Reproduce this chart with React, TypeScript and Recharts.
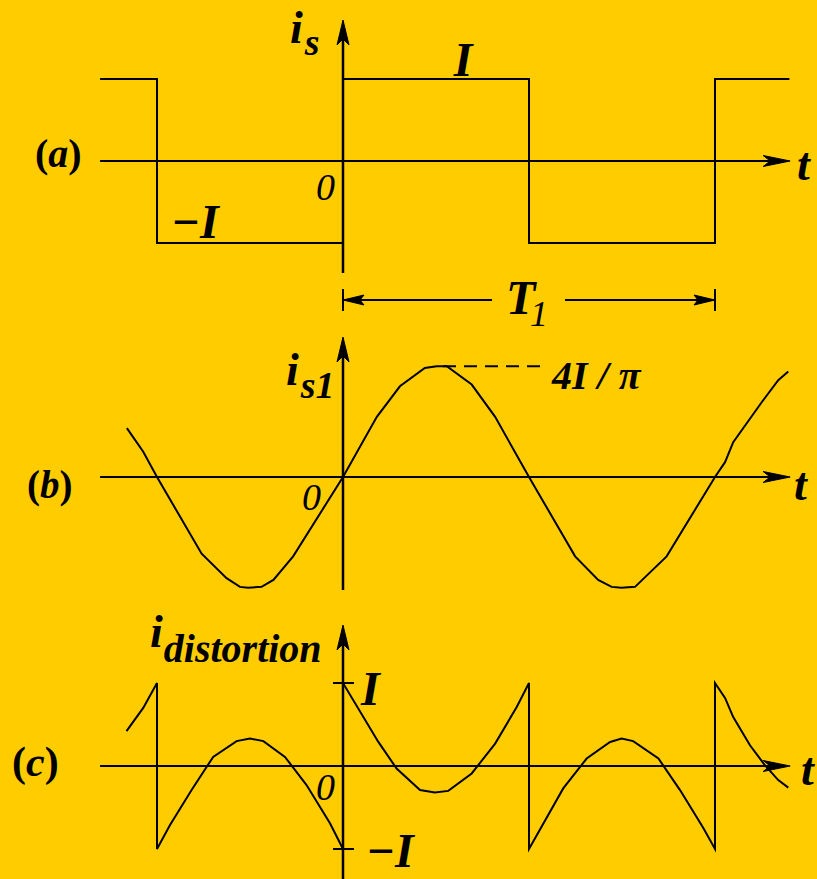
import React from 'react';
import { LineChart, Line, XAxis, YAxis, ReferenceLine, ReferenceDot } from 'recharts';

// ---------- data (t in periods T1, values in units of I) ----------
const squareT = [-0.653, -0.5, -0.5, 0, 0, 0.5, 0.5, 1, 1, 1.2];
const squareV = [1, 1, -1, -1, 1, 1, -1, -1, 1, 1];

const fundT = [-0.581, -0.537, -0.5, -0.38, -0.313, -0.277, -0.255, -0.219, -0.187, -0.134,
  0, 0.091, 0.153, 0.22, 0.252, 0.279, 0.346, 0.409, 0.467, 0.5,
  0.624, 0.686, 0.722, 0.749, 0.785, 0.87, 1.0, 1.027, 1.049, 1.126,
  1.17, 1.197];
const fundV = [0.56, 0.29, 0, -0.88, -1.16, -1.26, -1.27, -1.26, -1.18, -0.91,
  0, 0.69, 1.04, 1.25, 1.27, 1.27, 1.06, 0.69, 0.25, 0,
  -0.91, -1.18, -1.26, -1.27, -1.26, -0.91, 0, 0.17, 0.4, 0.86,
  1.11, 1.21];

const distT = [-0.582, -0.537, -0.5, -0.5, -0.465, -0.407, -0.349, -0.286, -0.25, -0.214,
  -0.156, -0.098, -0.035, 0, 0, 0.095, 0.144, 0.207, 0.247, 0.283,
  0.346, 0.409, 0.467, 0.5, 0.5, 0.592, 0.655, 0.718, 0.749, 0.78,
  0.848, 0.906, 0.969, 1.0, 1.0, 1.027, 1.049, 1.094, 1.134, 1.17, 1.197];
const distV = [0.42, 0.7, 1.0, -1.0, -0.71, -0.29, 0.11, 0.3, 0.33, 0.3,
  0.11, -0.23, -0.69, -1.0, 1.0, 0.29, -0.03, -0.29, -0.32, -0.3,
  -0.09, 0.27, 0.71, 1.0, -1.0, -0.27, 0.09, 0.29, 0.33, 0.3,
  0.09, -0.29, -0.75, -1.0, 1.0, 0.82, 0.59, 0.25, 0.01, -0.17, -0.26];

const FUND_PEAK = 1.27; // 4I/π
const axisStartT = -0.653;
const axisEndT = 1.202;

const zip = (ts: number[], vs: number[]) => ts.map((t, i) => ({ t, v: vs[i] }));
const squareData = zip(squareT, squareV);
const fundData = zip(fundT, fundV);
const distData = zip(distT, distV);

// ---------- layout ----------
const W = 817;
const H = 879;
const BG = '#FFCC00';
const INK = '#000';
const X_ZERO = 343;
const PX_PER_T = 372;
const T_MIN = -X_ZERO / PX_PER_T;
const T_MAX = (W - X_ZERO) / PX_PER_T;
const tAt = (px: number) => (px - X_ZERO) / PX_PER_T;
const FONT = '"Liberation Serif", "Times New Roman", serif';

type PanelGeom = { top: number; height: number; zeroY: number; ppu: number };
const PA: PanelGeom = { top: 0, height: 340, zeroY: 161, ppu: 82 };
const PB: PanelGeom = { top: 330, height: 276, zeroY: 477, ppu: 87.2 };
const PC: PanelGeom = { top: 606, height: 273, zeroY: 766, ppu: 83 };
const vAt = (g: PanelGeom, py: number) => (g.zeroY - py) / g.ppu;

const arrowShape = (dir: 'right' | 'left' | 'up', len = 26, half = 6, notch = 6) => (p: any) => {
  const { cx, cy } = p;
  let d = '';
  if (dir === 'right') d = `M${cx},${cy} L${cx - len},${cy - half} L${cx - len + notch},${cy} L${cx - len},${cy + half} Z`;
  if (dir === 'left') d = `M${cx},${cy} L${cx + len},${cy - half} L${cx + len - notch},${cy} L${cx + len},${cy + half} Z`;
  if (dir === 'up') d = `M${cx},${cy} L${cx - half},${cy + len} L${cx},${cy + len - notch} L${cx + half},${cy + len} Z`;
  return <path d={d} fill={INK} stroke={INK} strokeWidth={1} />;
};

const arrow = (key: string, t: number, v: number, dir: 'right' | 'left' | 'up', len?: number, half?: number, notch?: number) => (
  <ReferenceDot key={key} x={t} y={v} r={0} ifOverflow="visible" shape={arrowShape(dir, len, half, notch)} />
);

const label = (key: string, t: number, v: number, content: React.ReactNode, style: any = {}) => (
  <ReferenceDot
    key={key}
    x={t}
    y={v}
    r={0}
    ifOverflow="visible"
    shape={(p: any) => (
      <text x={p.cx} y={p.cy} fontFamily={FONT} fill={INK} {...style}>
        {content}
      </text>
    )}
  />
);

const seg = (key: string, x1: number, y1: number, x2: number, y2: number, extra: any = {}) => (
  <ReferenceLine
    key={key}
    segment={[{ x: x1, y: y1 }, { x: x2, y: y2 }]}
    stroke={INK}
    strokeWidth={2}
    ifOverflow="visible"
    {...extra}
  />
);

const MATH = { fontStyle: 'italic', fontWeight: 'bold' };

function Panel({ g, children }: { g: PanelGeom; children: React.ReactNode }) {
  const yMax = (g.zeroY - g.top) / g.ppu;
  const yMin = -(g.top + g.height - g.zeroY) / g.ppu;
  return (
    <div style={{ position: 'absolute', left: 0, top: g.top, width: W, height: g.height }}>
      <LineChart width={W} height={g.height} margin={{ top: 0, right: 0, bottom: 0, left: 0 }}>
        <XAxis type="number" dataKey="t" domain={[T_MIN, T_MAX]} hide allowDataOverflow />
        <YAxis type="number" dataKey="v" domain={[yMin, yMax]} hide allowDataOverflow />
        {children}
      </LineChart>
    </div>
  );
}

const axes = (g: PanelGeom, yTopPx: number, yBotPx: number) => [
  seg('xaxis', axisStartT, 0, axisEndT - 0.04, 0),
  arrow('xarrow', axisEndT, 0, 'right', 27, 5.5, 7),
  seg('yaxis', 0, vAt(g, yTopPx + 10), 0, vAt(g, yBotPx), { strokeWidth: 2.5 }),
  arrow('yarrow', 0, vAt(g, yTopPx), 'up', 25, 6, 6),
];

const lineProps = {
  dataKey: 'v',
  type: 'linear' as const,
  stroke: INK,
  strokeWidth: 2,
  dot: false,
  activeDot: false,
  isAnimationActive: false,
};

export default function App() {
  return (
    <div style={{ position: 'absolute', left: 0, top: 0, width: W, height: H, background: BG, overflow: 'hidden' }}>
      {/* (a) square wave */}
      <Panel g={PA}>
        {axes(PA, 20, 273)}
        <Line data={squareData} {...lineProps} />
        {seg('t1l', 0, vAt(PA, 300), tAt(492), vAt(PA, 300))}
        {seg('t1r', tAt(565), vAt(PA, 300), 1, vAt(PA, 300))}
        {seg('t1tl', 0, vAt(PA, 289), 0, vAt(PA, 311))}
        {seg('t1tr', 1, vAt(PA, 289), 1, vAt(PA, 311))}
        {arrow('t1al', 0, vAt(PA, 300), 'left', 21, 5, 4)}
        {arrow('t1ar', 1, vAt(PA, 300), 'right', 21, 5, 4)}
        {label('la', tAt(35), vAt(PA, 167), <><tspan>(</tspan><tspan fontStyle="italic">a</tspan><tspan>)</tspan></>, { fontSize: 40, fontWeight: 'bold' })}
        {label('lis', tAt(290), vAt(PA, 43), <><tspan>i</tspan><tspan dx={2} dy={12} fontSize={38}>s</tspan></>, { ...MATH, fontSize: 46 })}
        {label('lI', tAt(463), vAt(PA, 76), 'I', { ...MATH, fontSize: 48, textAnchor: 'middle' })}
        {label('lmI', tAt(171), vAt(PA, 238), '−I', { ...MATH, fontSize: 48 })}
        {label('l0', tAt(316), vAt(PA, 200), '0', { fontStyle: 'italic', fontSize: 38 })}
        {label('lt', tAt(797), vAt(PA, 180), 't', { ...MATH, fontSize: 46 })}
        {label('lT', tAt(506), vAt(PA, 314), 'T', { ...MATH, fontSize: 48 })}
        {label('lT1', tAt(530), vAt(PA, 326), '1', { fontStyle: 'italic', fontSize: 36 })}
      </Panel>

      {/* (b) fundamental */}
      <Panel g={PB}>
        {axes(PB, 337, 590)}
        <Line data={fundData} {...lineProps} />
        {seg('dash', tAt(443), FUND_PEAK, tAt(547), FUND_PEAK, { strokeDasharray: '13 8' })}
        {label('lb', tAt(27), vAt(PB, 498), <><tspan>(</tspan><tspan fontStyle="italic">b</tspan><tspan>)</tspan></>, { fontSize: 39, fontWeight: 'bold' })}
        {label('lis1', tAt(286), vAt(PB, 385), <><tspan>i</tspan><tspan dx={2} dy={13} fontSize={38}>s1</tspan></>, { ...MATH, fontSize: 46 })}
        {label('l4', tAt(552), vAt(PB, 389), '4I / π', { ...MATH, fontSize: 40 })}
        {label('l0b', tAt(302), vAt(PB, 510), '0', { fontStyle: 'italic', fontSize: 38 })}
        {label('ltb', tAt(794), vAt(PB, 500), 't', { ...MATH, fontSize: 46 })}
      </Panel>

      {/* (c) distortion */}
      <Panel g={PC}>
        {axes(PC, 625, 890)}
        <Line data={distData} {...lineProps} />
        {seg('tickI', tAt(333), 1, tAt(354), 1)}
        {seg('tickmI', tAt(333), -1, tAt(354), -1)}
        {label('lc', tAt(12), vAt(PC, 776), <><tspan>(</tspan><tspan fontStyle="italic">c</tspan><tspan>)</tspan></>, { fontSize: 42, fontWeight: 'bold' })}
        {label('lid', tAt(150), vAt(PC, 647), <><tspan>i</tspan><tspan dx={1} dy={15} fontSize={40}>distortion</tspan></>, { ...MATH, fontSize: 46 })}
        {label('lcI', tAt(361), vAt(PC, 705), 'I', { ...MATH, fontSize: 48 })}
        {label('lcmI', tAt(366), vAt(PC, 867), '−I', { ...MATH, fontSize: 48 })}
        {label('l0c', tAt(316), vAt(PC, 800), '0', { fontStyle: 'italic', fontSize: 38 })}
        {label('ltc', tAt(801), vAt(PC, 785), 't', { ...MATH, fontSize: 46 })}
      </Panel>
    </div>
  );
}
